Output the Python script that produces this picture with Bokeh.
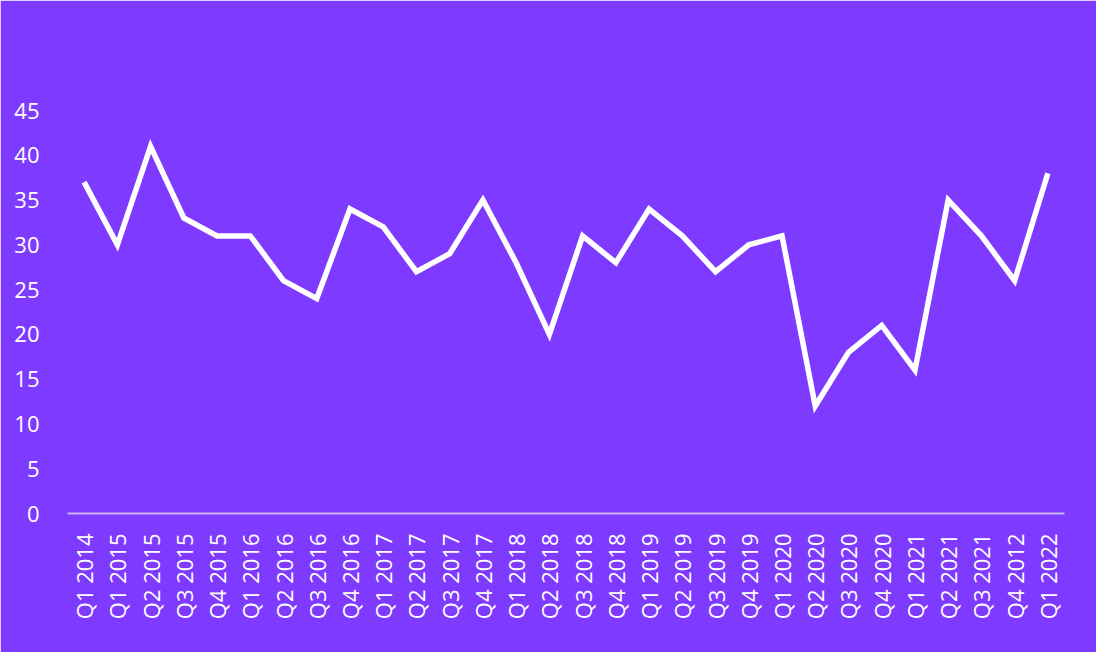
import math
from bokeh.plotting import figure
from bokeh.models import FactorRange, Range1d, FixedTicker
from bokeh.embed import file_html
from bokeh.resources import INLINE

quarters = ["Q1 2014", "Q1 2015", "Q2 2015", "Q3 2015", "Q4 2015", "Q1 2016", "Q2 2016",
            "Q3 2016", "Q4 2016", "Q1 2017", "Q2 2017", "Q3 2017", "Q4 2017", "Q1 2018",
            "Q2 2018", "Q3 2018", "Q4 2018", "Q1 2019", "Q2 2019", "Q3 2019", "Q4 2019",
            "Q1 2020", "Q2 2020", "Q3 2020", "Q4 2020", "Q1 2021", "Q2 2021", "Q3 2021",
            "Q4 2012", "Q1 2022"]
values = [37, 30, 41, 33, 31, 31, 26, 24, 34, 32, 27, 29, 35, 28, 20, 31, 28, 34, 31, 27,
          30, 31, 12, 18, 21, 16, 35, 31, 26, 38]
y_ticks = [0, 5, 10, 15, 20, 25, 30, 35, 40, 45]

BG = "#7E3BFF"
FONT = "Open Sans"

p = figure(width=1096, height=652, x_range=FactorRange(*quarters, range_padding=0),
           y_range=Range1d(0, 45), output_backend="svg", toolbar_location=None,
           min_border_left=67, min_border_right=32, min_border_top=110, min_border_bottom=139)
p.background_fill_color = BG
p.border_fill_color = BG
p.outline_line_color = BG
p.outline_line_width = 2
p.xgrid.grid_line_color = None
p.ygrid.grid_line_color = None

p.line(quarters, values, line_color="white", line_width=5.5, line_join="miter")

# y axis
p.yaxis.ticker = FixedTicker(ticks=y_ticks)
p.yaxis.axis_line_color = None
p.yaxis.major_tick_line_color = None
p.yaxis.minor_tick_line_color = None
p.yaxis.major_tick_out = 0
p.yaxis.major_tick_in = 0
p.yaxis.major_label_standoff = 28
p.yaxis.major_label_text_color = "white"
p.yaxis.major_label_text_font = FONT
p.yaxis.major_label_text_font_size = "22px"

# x axis
p.xaxis.axis_line_color = "#C8B4FF"
p.xaxis.axis_line_width = 2
p.xaxis.major_tick_line_color = None
p.xaxis.minor_tick_line_color = None
p.xaxis.major_tick_out = 0
p.xaxis.major_tick_in = 0
p.xaxis.major_label_standoff = 20
p.xaxis.major_label_orientation = math.pi / 2
p.xaxis.major_label_text_color = "white"
p.xaxis.major_label_text_font = FONT
p.xaxis.major_label_text_font_size = "22px"

open("out.html", "w").write(file_html(p, INLINE))
